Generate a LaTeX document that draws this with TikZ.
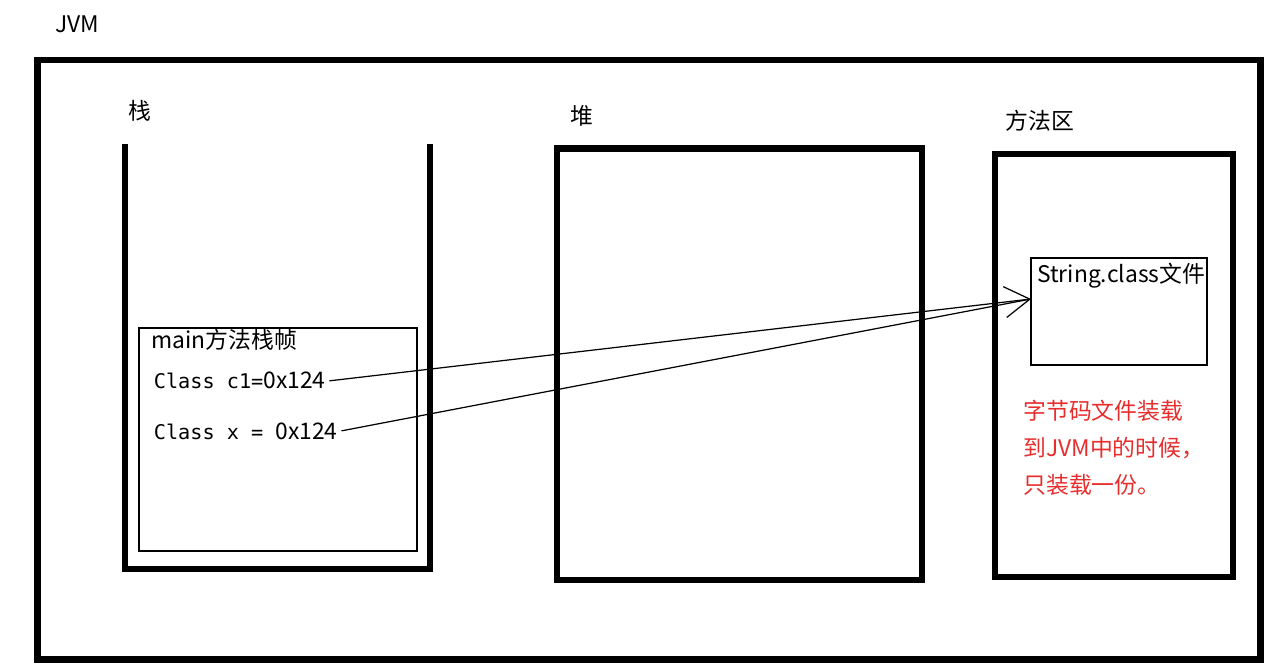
\documentclass[tikz,border=0pt]{standalone}
\usepackage{fontspec}
\setmainfont{Noto Sans CJK SC}
\setmonofont{DejaVu Sans Mono}
\definecolor{notered}{RGB}{232, 45, 45}
\usepackage{tikz}
\usetikzlibrary{arrows.meta, positioning, calc}

\begin{document}
\begin{tikzpicture}[
  area/.style={draw, line width=3.7pt},
  thin/.style={draw, line width=0.7pt},
  lbl/.style={inner sep=0pt, anchor=base west, font=\fontsize{13}{21}\selectfont},
  code/.style={inner xsep=2pt, inner ysep=0pt, anchor=base west, font=\fontsize{13}{21}\selectfont}
]
  \useasboundingbox (0, 0) rectangle (25.74, -13.4);

  % JVM
  \node[lbl] (jvm) at (1.1, -0.66) {JVM};
  \draw[area] (0.75, -1.2) rectangle (25.21, -13.19);

  % Stack
  \node[lbl] (stack) at (2.56, -2.4) {栈};
  \draw[area] (2.5, -2.88) -- (2.5, -11.38) -- (8.6, -11.38) -- (8.6, -2.88);

  % Frame of main
  \draw[thin] (2.78, -6.56) rectangle (8.34, -11.02);
  \node[lbl] (frame) at (3.02, -6.96) {main方法栈帧};
  \node[code] (c1) at (3.0, -7.78) {{\fontsize{11.5}{14}\selectfont\ttfamily Class c1=}0x124};
  \node[code] (xref) at (3.0, -8.78) {{\fontsize{11.5}{14}\selectfont\ttfamily Class x = }0x124};

  % Heap
  \node[lbl] (heap) at (11.4, -2.5) {堆};
  \draw[area] (11.14, -2.97) rectangle (18.44, -11.6);

  % Method area
  \node[lbl] (method) at (20.1, -2.6) {方法区};
  \draw[area] (19.9, -3.08) rectangle (24.66, -11.54);

  % String.class
  \draw[thin] (20.62, -5.16) rectangle (24.14, -7.3);
  \node[lbl] (strcls) at (20.74, -5.66) {String.class文件};
  \coordinate (hit) at (20.62, -5.98);

  % Note
  \node[lbl, anchor=north west, align=left, text=notered] (note) at (20.46, -8.0)
    {字节码文件装载\\到JVM中的时候，\\只装载一份。};

  \draw[line width=0.7pt, -{Straight Barb[length=0.5cm, width=0.62cm]}] (c1.east) -- (hit);
  \draw[line width=0.7pt] (xref.east) -- (hit);
\end{tikzpicture}
\end{document}
